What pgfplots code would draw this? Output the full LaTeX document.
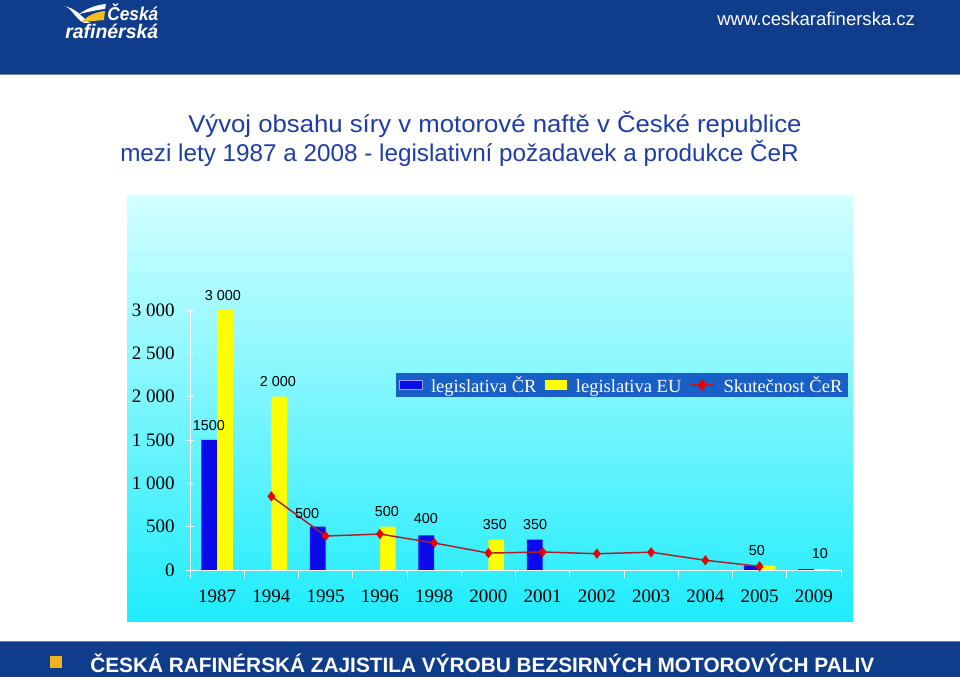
\documentclass[border=0pt]{standalone}
\usepackage{pgfplots}
\pgfplotsset{compat=1.18}
\usepackage{fontspec}
\setmainfont{Liberation Serif}
\newfontfamily\arial{Liberation Sans}
\newcommand\fs[1]{\fontsize{#1}{#1}\selectfont}
\newcommand\lstrut{\rule[-5pt]{0pt}{17pt}}
\definecolor{hdr}{RGB}{16,60,140}
\definecolor{ttl}{RGB}{30,60,170}
\definecolor{legbg}{RGB}{25,95,200}
\definecolor{cr}{RGB}{10,10,235}
\definecolor{eu}{RGB}{255,255,0}
\definecolor{lred}{RGB}{175,30,35}
\definecolor{mred}{RGB}{235,0,0}
\definecolor{panelTop}{RGB}{210,255,255}
\definecolor{panelBot}{RGB}{30,236,252}
\definecolor{sq}{RGB}{240,180,30}
\definecolor{logoy}{RGB}{245,190,30}
\begin{document}
\begin{tikzpicture}[x=0.75pt,y=0.75pt]
\useasboundingbox (0,0) rectangle (960,677);
\fill[white] (0,0) rectangle (960,677);
% header and footer bars
\fill[hdr] (0,603) rectangle (960,677);
\draw[color={rgb,255:red,110;green,130;blue,170}, line width=0.75pt] (0,602.5) -- (960,602.5);
\fill[hdr] (0,0) rectangle (960,35);
\draw[color={rgb,255:red,110;green,130;blue,170}, line width=0.75pt] (0,35.5) -- (960,35.5);
% panel
\shade[top color=panelTop, bottom color=panelBot] (127,55) rectangle (853,481);
\begin{scope}[shift={(0,677)}, yscale=-1]
% logo swoosh
\fill[white] (63,6) .. controls (71,6) and (75,19) .. (84,23) -- (90,23) .. controls (81,17) and (77,8) .. (63,6) -- cycle;
\fill[white] (79,14) .. controls (88,8) and (96,5) .. (106,4) -- (105,9) .. controls (96,10) and (88,12) .. (79,14) -- cycle;
\fill[logoy] (82,22) .. controls (88,15) and (96,12) .. (105,11) -- (104,20) -- cycle;
\node[anchor=base west, inner sep=0pt, text=white] at (107,21) {\resizebox{38.25pt}{12.5pt}{\arial\bfseries\itshape Česká}};
\node[anchor=base west, inner sep=0pt, text=white] at (65,38.5) {\resizebox{69.75pt}{10.8pt}{\arial\bfseries\itshape rafinérská}};
% url
\node[anchor=base west, inner sep=0pt, text=white, font=\arial\fs{13.9}] at (717,26) {www.ceskarafinerska.cz};
% title
\node[anchor=base west, inner sep=0pt, text=ttl, font=\arial\fs{18.2}] at (188,133) {\scalebox{1.06}[1]{Vývoj obsahu síry v motorové naftě v České republice}};
\node[anchor=base west, inner sep=0pt, text=ttl, font=\arial\fs{18.2}] at (120,162) {mezi lety 1987 a 2008 - legislativní požadavek a produkce ČeR};
% footer
\fill[sq] (50,656) rectangle (62,668);
\node[anchor=base west, inner sep=0pt, text=white, font=\arial\bfseries\fs{15.6}] at (90,673) {ČESKÁ RAFINÉRSKÁ ZAJISTILA VÝROBU BEZSIRNÝCH MOTOROVÝCH PALIV};
\end{scope}
\begin{axis}[
  at={(142.5pt,80.25pt)}, anchor=south west,
  scale only axis, width=488.25pt, height=195pt,
  xmin=-0.5, xmax=11.5, ymin=0, ymax=3000,
  axis x line*=bottom, axis y line*=left,
  axis line style={draw=white, line width=0.6pt},
  xtick={0,...,11},
  xticklabels={1987,1994,1995,1996,1998,2000,2001,2002,2003,2004,2005,2009},
  minor xtick={-0.5,0.5,...,11.5},
  ytick={0,500,...,3000},
  yticklabels={0,500,1 000,1 500,2 000,2 500,3 000},
  minor ytick={0,500,...,3000},
  major tick length=0pt, minor tick length=6pt,
  xtick align=outside, ytick align=center,
  tick style={draw=white, line width=0.6pt},
  xticklabel style={font=\fs{14.25}, anchor=base, inner sep=0pt, yshift=-24.75pt},
  yticklabel style={font=\fs{14.25}, anchor=east, inner sep=0pt, xshift=-11.25pt},
  legend columns=3,
  legend style={at={(1.0108,0.7115)}, anchor=east, fill=legbg, draw=none, text=white,
    font=\fs{13.9}, inner xsep=2pt, inner ysep=0pt,
    /tikz/every odd column/.append style={column sep=4.5pt},
    /tikz/every even column/.append style={column sep=4pt}},
  clip=false,
]
\addplot[ybar, bar width=0.29, bar shift=-0.145, fill=cr, draw=none,
  legend image code/.code={\draw[fill=cr, draw=white!60!cr, line width=0.6pt] (0pt,-3.5pt) rectangle (17pt,3.5pt);}]
  coordinates {(0,1500) (2,500) (4,400) (6,350) (10,50) (11,10)};
\addlegendentry{\lstrut legislativa ČR}
\addplot[ybar, bar width=0.29, bar shift=0.145, fill=eu, draw=none,
  legend image code/.code={\fill[eu] (0pt,-3.5pt) rectangle (17pt,3.5pt);}]
  coordinates {(0,3000) (1,2000) (3,500) (5,350) (10,50) (11,10)};
\addlegendentry{\lstrut legislativa EU}
\addplot[color=lred, line width=1.1pt, mark=diamond*, mark size=3.6pt,
  mark options={fill=mred, draw=mred, line width=0.3pt},
  legend image code/.code={\draw[lred, line width=1.1pt] (0pt,0pt) -- (18pt,0pt); \fill[mred] (9pt,3.6pt) -- (11.7pt,0pt) -- (9pt,-3.6pt) -- (6.3pt,0pt) -- cycle;}]
  coordinates {(1,850) (2,392) (3,415) (4,312) (5,195) (6,208) (7,188) (8,205) (9,112) (10,42)};
\addlegendentry{\lstrut Skutečnost ČeR}
\begin{scope}[every node/.style={font=\arial\fs{10.8}, inner sep=0pt}]
\node at (axis cs:0.108,3161) {3 000};
\node at (axis cs:-0.15,1661) {1500};
\node at (axis cs:1.122,2169) {2 000};
\node at (axis cs:1.657,646) {500};
\node at (axis cs:3.131,669) {500};
\node at (axis cs:3.85,588) {400};
\node at (axis cs:5.122,519) {350};
\node at (axis cs:5.86,519) {350};
\node at (axis cs:9.95,230) {50};
\node at (axis cs:11.11,185) {10};
\end{scope}
\end{axis}
\end{tikzpicture}
\end{document}
